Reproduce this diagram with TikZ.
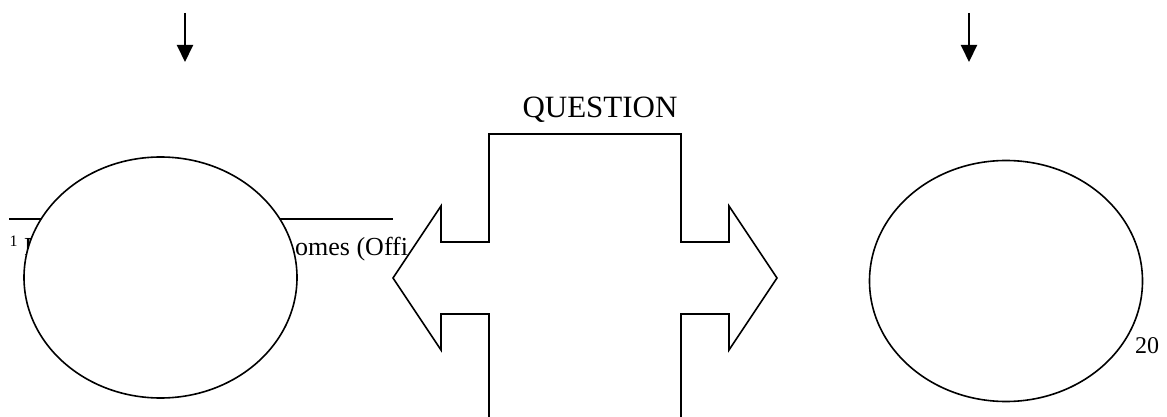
\documentclass[tikz,border=0pt]{standalone}
\usepackage{fontspec}
\setmainfont{Liberation Serif}
\usetikzlibrary{shapes.geometric,arrows.meta}
\begin{document}
\begin{tikzpicture}[x=1pt,y=-1pt,
  oval/.style={ellipse,draw,fill=white,line width=1.6pt,inner sep=0pt,minimum width=273pt,minimum height=241pt},
  downarrow/.style={line width=2pt,-{Triangle[length=17pt,width=16pt]}},
  crossshape/.style={draw,fill=white,line width=1.6pt,line join=miter},
  rule/.style={line width=2pt},
  txt/.style={inner sep=0pt,anchor=base west}]
\useasboundingbox (0,0) rectangle (1167,417);
\clip (0,0) rectangle (1167,417);
\fill[white] (0,0) rectangle (1167,417);
% top arrows
\coordinate (a1s) at (185,13); \coordinate (a1e) at (185,62);
\coordinate (a2s) at (969,13); \coordinate (a2e) at (969,62);
\draw[downarrow] (a1s) -- (a1e);
\draw[downarrow] (a2s) -- (a2e);
% footnote remains
\coordinate (r1) at (9,219); \coordinate (r2) at (393,219);
\draw[rule] (r1) -- (r2);
\node[txt,font=\fontsize{16}{19}\selectfont] (fn1) at (9.5,246) {1};
\node[txt,font=\fontsize{26}{30}\selectfont] (fnp) at (24,255) {P};
\node[txt,font=\fontsize{26}{30}\selectfont] (fnt) at (295,255) {omes (Offi};
% ellipses
\node[oval] (L) at (160.5,277.5) {};
\node[oval] (R) at (1006,281) {};
% cross with two arrows
\draw[crossshape] (489,430) -- (489,314) -- (441,314) -- (441,350) -- (393,278)
  -- (441,206) -- (441,242) -- (489,242) -- (489,134) -- (681,134) -- (681,242)
  -- (729,242) -- (729,206) -- (777,278) -- (729,350) -- (729,314) -- (681,314)
  -- (681,430);
\node[anchor=base,inner sep=0pt,font=\fontsize{31}{36}\selectfont] (q) at (600,118) {QUESTION};
\node[txt,font=\fontsize{24}{28}\selectfont] (pg) at (1135,353) {20};
\end{tikzpicture}
\end{document}
